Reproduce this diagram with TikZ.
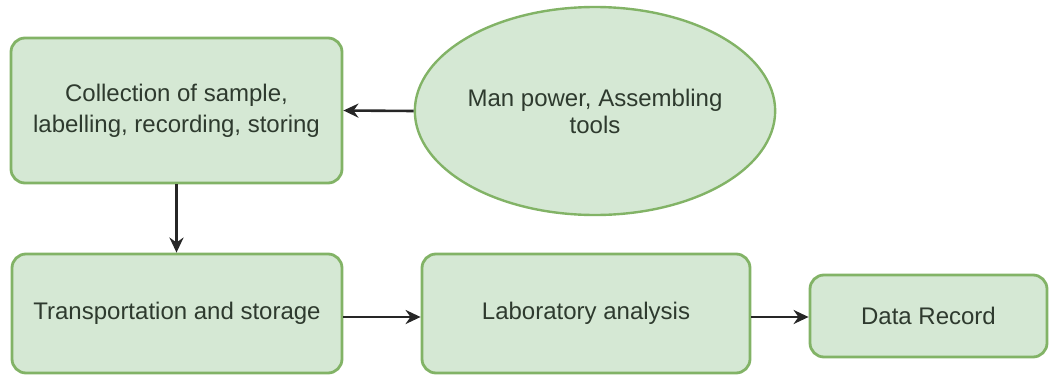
\documentclass[tikz,border=0pt]{standalone}
\usepackage{fontspec}
\setmainfont{Liberation Sans}
\usetikzlibrary{shapes.geometric,arrows.meta}
\definecolor{gfill}{HTML}{D5E8D4}
\definecolor{gline}{HTML}{82B366}
\definecolor{gtext}{HTML}{2E3A2E}
\begin{document}
\begin{tikzpicture}[x=1pt,y=-1pt,
  box/.style={draw=gline,fill=gfill,line width=2.8pt,rounded corners=14pt,
    align=center,text=gtext,font=\fontsize{24}{31}\selectfont,inner sep=0pt},
  oval/.style={ellipse,draw=gline,fill=gfill,line width=2.4pt,
    align=center,text=gtext,font=\fontsize{24}{27}\selectfont,inner sep=0pt},
  conn/.style={line width=2.6pt,black!85,-{Stealth[length=15pt,width=14pt]}}]
\useasboundingbox (0,0) rectangle (1050,375);
\node[box,minimum width=331pt,minimum height=145pt] (collect) at (176.5,110.5)
  {Collection of sample,\\labelling, recording, storing};
\node[oval,minimum width=316pt,minimum height=208pt] (man) at (595,111)
  {Man power, Assembling\\tools};
\node[box,minimum width=330pt,minimum height=119pt] (trans) at (177,313.5)
  {Transportation and storage};
\node[box,minimum width=328pt,minimum height=119pt] (lab) at (586,313.5)
  {Laboratory analysis};
\node[box,minimum width=237pt,minimum height=82pt] (data) at (928.5,316)
  {Data Record};
\draw[conn] (man.west) -- (collect.east);
\draw[conn] (collect.south) -- (collect.south |- trans.north);
\draw[conn] (trans.east |- 0,317) -- (lab.west |- 0,317);
\draw[conn] (lab.east |- 0,317) -- (data.west |- 0,317);
\end{tikzpicture}
\end{document}
